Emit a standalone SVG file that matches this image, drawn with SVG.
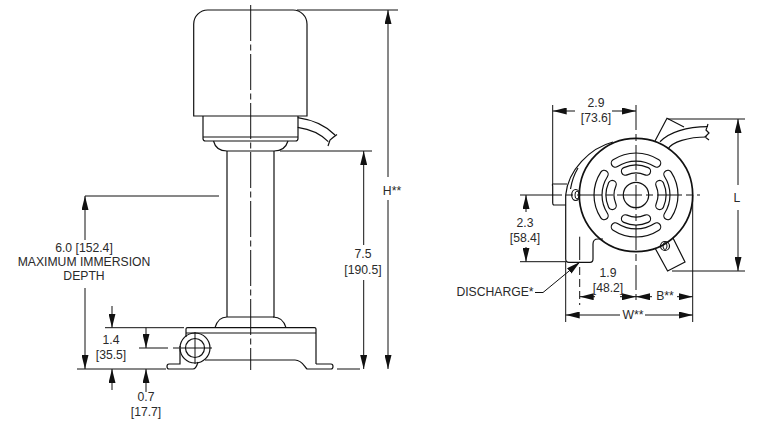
<svg xmlns="http://www.w3.org/2000/svg" width="770" height="430" viewBox="0 0 770 430">
<style>
.l{fill:none;stroke:#111;stroke-width:1.2}
.d{fill:none;stroke:#111;stroke-width:1}
.h{stroke:#111;stroke-width:1;fill:none;marker-end:url(#a)}
.c{fill:none;stroke:#111;stroke-width:1;stroke-dasharray:36 3.5 6 3.5}
.c2{fill:none;stroke:#111;stroke-width:1;stroke-dasharray:25 4 7 4}
text{font-family:"Liberation Sans",Arial,sans-serif;font-size:12.2px;fill:#2a2a2a;text-anchor:middle}
</style>
<defs>
<marker id="a" markerUnits="userSpaceOnUse" markerWidth="14" markerHeight="7" refX="14" refY="3.5" viewBox="0 0 14 7" orient="auto"><path d="M0 0L14 3.5L0 7Z" fill="#111"/></marker>
<path id="s1" d="M-22.900 -35.200A42 42 0 0 1 22.900 -35.200A4 4 0 0 1 18.500 -28.500A34 34 0 0 0 -18.500 -28.500A4 4 0 0 1 -22.900 -35.200Z" class="l"/>
<path id="s2" d="M-12.200 -27.400A30 30 0 0 1 12.200 -27.400A4 4 0 0 1 8.900 -20.100A22 22 0 0 0 -8.900 -20.100A4 4 0 0 1 -12.200 -27.400Z" class="l"/>
</defs>
<g id="pump-side">
<path class="l" d="M193.700 116V24A14 14 0 0 1 207.700 10H293A14 14 0 0 1 307 24V116Z"/>
<path class="l" d="M203 116V138.500Q203 141 205.500 141H295.500Q298 141 298 138.500V116M203 137H298"/>
<path class="l" d="M213.500 141Q216 151 227 151H274Q285 151 288 141"/>
<path class="l" d="M227 151V317M274 151V317M227 317H274"/>
<path class="l" d="M297.700 117.700C314 120 327 127 335 135M297.700 127.300C310 129 321 134 328.300 141.700M337 134.500L333 137.500L330 140L328 146"/>
<path class="l" d="M215 327.700Q218 317 227 317M273 317Q283 317 286 327.700"/>
<path class="l" d="M186 337V329Q186 327.700 187.500 327.700H314.500Q316 327.700 316 329V364M186 333H316"/>
<path class="l" d="M180 346V364H169Q167 364 167 366.500Q167 369 169 369H193Q196 369 198 362M205 360H295C302 360 304 366 307 369H331Q333 369 333 366.500Q333 364 331 364H316"/>
<circle class="l" cx="195" cy="348" r="15"/>
<circle class="l" cx="195" cy="348" r="9.500"/>
<path class="d" d="M195 332V364M173 348H179M181 348H212"/>
</g>
<g id="pump-top">
<path class="l" d="M553 184H567M553 205H566M553 184Q552 184 552.700 186V203Q552.700 205 554 205"/>
<path class="l" d="M565.700 195V259Q565.700 262.300 569 262.300H590Q593 262.300 593 259V244Q593 239 598 239H603"/>
<path class="l" d="M565.700 195C568 170 590 148 613 142M570.500 189C572 180 575 173 578 168"/>
<ellipse class="l" cx="575.700" cy="195" rx="4" ry="5.500"/>
<ellipse class="d" cx="577" cy="195" rx="2" ry="4"/>
<circle cx="636" cy="195" r="56.700" fill="none" stroke="#111" stroke-width="1.700"/>
<circle class="l" cx="636" cy="195" r="12.700"/>
<use href="#s1" transform="translate(636 195)"/>
<use href="#s1" transform="translate(636 195) rotate(90)"/>
<use href="#s1" transform="translate(636 195) rotate(180)"/>
<use href="#s1" transform="translate(636 195) rotate(270)"/>
<use href="#s2" transform="translate(636 195)"/>
<use href="#s2" transform="translate(636 195) rotate(90)"/>
<use href="#s2" transform="translate(636 195) rotate(180)"/>
<use href="#s2" transform="translate(636 195) rotate(270)"/>
<path class="l" d="M655 141L667 118.300L684 127"/>
<path class="l" d="M660 141.700C670 132 686 127 708 126.700M668 149C672 142 688 137 706.700 137M708 124L706 130L709 133L705 137L709 140"/>
<path class="l" d="M655 248L667.600 271L685 262L673 238"/>
<circle class="l" cx="665" cy="246" r="4.500"/>
<ellipse class="d" cx="665" cy="246" rx="2" ry="3.500"/>
</g>
<g id="connectors">
<path class="c" d="M250.700 5V370"/>
<path class="d" d="M297 10H398M280 151H372M85 196H219M105 327.700H184M139 348H168M77 369H166M337 369H360"/>
<path class="h" d="M388 177V10"/><path class="h" d="M388 200V369"/>
<path class="h" d="M363.700 245V151"/><path class="h" d="M363.700 280V369"/>
<path class="h" d="M85 240V196"/><path class="h" d="M85 288V369"/>
<path class="h" d="M112 306V327.700"/><path class="h" d="M146 327.700V348"/>
<path class="h" d="M112 390V369"/><path class="h" d="M146 392V369"/>
<path class="c2" d="M636 105V300"/>
<path class="c2" d="M537 195H700" stroke-dasharray="13 5 6 5 26 4 7 4"/>
<path class="d" d="M520 195H537M552.700 105V184M520 261.700H566M668 119H745M672 271H745M565.700 262V322M692.700 195V322M579.700 236.700V260"/>
<path class="d" d="M579.700 267V305" stroke-dasharray="8 4"/>
<path class="h" d="M575 111H552.700"/><path class="h" d="M612 111H636"/>
<path class="h" d="M738 185V119"/><path class="h" d="M738 210V271"/>
<path class="h" d="M526 212V195"/><path class="h" d="M526 247V261.700"/>
<path class="h" d="M595 296.700H579.700"/><path class="h" d="M620 296.700H636"/>
<path class="h" d="M652 296.700H636"/><path class="h" d="M677 296.700H692.700"/>
<path class="h" d="M620 315H565.700"/><path class="h" d="M645 315H692.700"/>
<path class="h" d="M535 292.500H543L580 262"/>
</g>
<g id="labels">
<text x="392" y="195">H**</text>
<text x="363" y="258">7.5</text><text x="363" y="274">[190.5]</text>
<text x="84" y="252">6.0 [152.4]</text><text x="84" y="266">MAXIMUM IMMERSION</text><text x="84" y="280">DEPTH</text>
<text x="111" y="344">1.4</text><text x="111" y="359">[35.5]</text>
<text x="146" y="401">0.7</text><text x="146" y="416">[17.7]</text>
<text x="596" y="107">2.9</text><text x="596" y="122">[73.6]</text>
<text x="737" y="202">L</text>
<text x="525" y="227">2.3</text><text x="525" y="242">[58.4]</text>
<text x="608" y="277">1.9</text><text x="608" y="292">[48.2]</text>
<text x="665" y="300">B**</text>
<text x="633" y="319">W**</text>
<text x="495" y="296">DISCHARGE*</text>
</g>
</svg>
